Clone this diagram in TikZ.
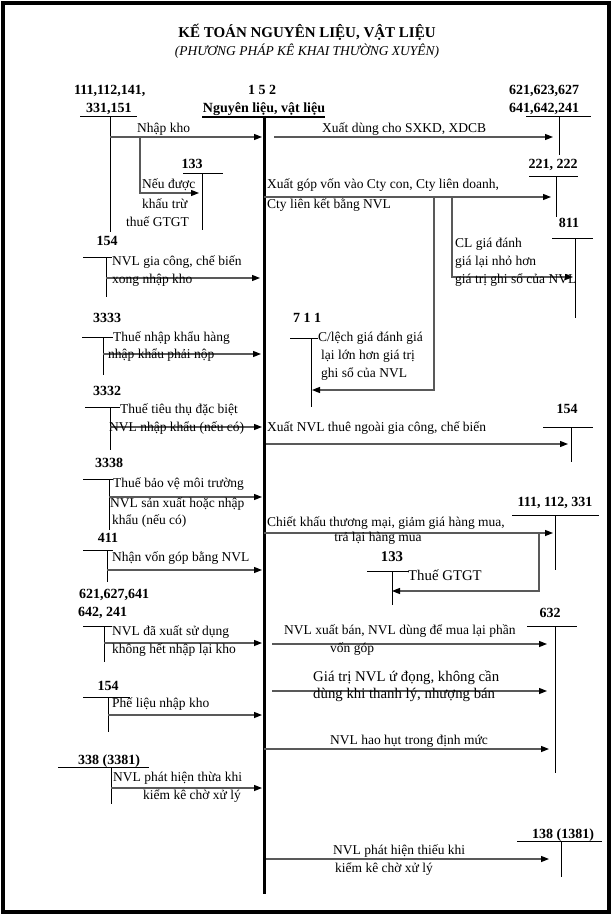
\documentclass[tikz,border=0pt]{standalone}
\usepackage{fontspec}
\setmainfont{Liberation Serif}
\usetikzlibrary{arrows.meta}
\newcommand{\fsN}{\fontsize{13.5}{15}\selectfont}
\newcommand{\fsB}{\fontsize{14}{16}\selectfont\bfseries}
\newcommand{\fsL}{\fontsize{14.8}{17}\selectfont}
\begin{document}
\begin{tikzpicture}[x=1pt,y=-1pt,
  txt/.style={anchor=base west,inner sep=0pt,font=\fsN},
  ctxt/.style={anchor=base,inner sep=0pt,font=\fsN},
  big/.style={anchor=base west,inner sep=0pt,font=\fsL},
  lab/.style={anchor=base,inner sep=0pt,font=\fsB},
  labw/.style={anchor=base west,inner sep=0pt,font=\fsB},
  tline/.style={draw=black,line width=1pt},
  arr/.style={draw=black!65,line width=1.3pt,-{Triangle[length=8pt,width=6pt,color=black]}}]
\useasboundingbox (0,0) rectangle (614,920);
\draw[line width=3.5pt] (3,3) rectangle (609,912);

% title
\node[anchor=base,inner sep=0pt,font=\fontsize{15}{17}\selectfont\bfseries] (title) at (307,38) {KẾ TOÁN NGUYÊN LIỆU, VẬT LIỆU};
\node[anchor=base,inner sep=0pt,font=\fontsize{13.5}{15}\selectfont\itshape] (subtitle) at (307,56) {(PHƯƠNG PHÁP KÊ KHAI THƯỜNG XUYÊN)};

% header accounts
\node[labw] (h111a) at (74,95) {111,112,141,};
\node[labw] (h111b) at (86,113) {331,151};
\node[lab] (h152a) at (262,95) {1 5 2};
\node[lab] (h152b) at (264,113) {Nguyên liệu, vật liệu};
\node[labw] (h621a) at (509,95) {621,623,627};
\node[labw] (h621b) at (509,113) {641,642,241};

% T accounts: coordinates
\coordinate (a111l) at (80,117); \coordinate (a111r) at (137,117);
\coordinate (a111t) at (110,117); \coordinate (a111b) at (110,232);
\draw[tline] (a111l) -- (a111r); \draw[tline] (a111t) -- (a111b);

\coordinate (mainl) at (202,117); \coordinate (mainr) at (325,117);
\coordinate (maint) at (264,116); \coordinate (mainb) at (264,894);
\draw[line width=2.2pt] (mainl) -- (mainr);
\draw[line width=3pt] (maint) -- (mainb);

\coordinate (a621l) at (526,117); \coordinate (a621r) at (591,117);
\coordinate (a621t) at (559,117); \coordinate (a621b) at (559,155);
\draw[tline] (a621l) -- (a621r); \draw[tline] (a621t) -- (a621b);

\node[lab] (l133a) at (192,169) {133};
\coordinate (a133l) at (183,174); \coordinate (a133r) at (223,174);
\coordinate (a133t) at (202,174); \coordinate (a133b) at (202,230);
\draw[tline] (a133l) -- (a133r); \draw[tline] (a133t) -- (a133b);

\node[lab] (l221) at (553,169) {221, 222};
\coordinate (a221l) at (529,177); \coordinate (a221r) at (578,177);
\coordinate (a221t) at (556,177); \coordinate (a221b) at (556,217);
\draw[tline] (a221l) -- (a221r); \draw[tline] (a221t) -- (a221b);

\node[lab] (l154a) at (107,245) {154};
\coordinate (a154l) at (83,257); \coordinate (a154r) at (112,257);
\coordinate (a154t) at (106,257); \coordinate (a154b) at (106,297);
\draw[tline] (a154l) -- (a154r); \draw[tline] (a154t) -- (a154b);

\node[lab] (l811) at (569,227) {811};
\coordinate (a811l) at (552,238); \coordinate (a811r) at (593,238);
\coordinate (a811t) at (575,238); \coordinate (a811b) at (575,318);
\draw[tline] (a811l) -- (a811r); \draw[tline] (a811t) -- (a811b);

\node[lab] (l3333) at (107,322) {3333};
\coordinate (a3333l) at (82,337); \coordinate (a3333r) at (113,337);
\coordinate (a3333t) at (103,337); \coordinate (a3333b) at (103,375);
\draw[tline] (a3333l) -- (a3333r); \draw[tline] (a3333t) -- (a3333b);

\node[lab] (l711) at (307,322) {7 1 1};
\coordinate (a711l) at (290,338); \coordinate (a711r) at (318,338);
\coordinate (a711t) at (311,338); \coordinate (a711b) at (311,407);
\draw[tline] (a711l) -- (a711r); \draw[tline] (a711t) -- (a711b);

\node[lab] (l3332) at (107,395) {3332};
\coordinate (a3332l) at (85,407); \coordinate (a3332r) at (120,407);
\coordinate (a3332t) at (110,407); \coordinate (a3332b) at (110,450);
\draw[tline] (a3332l) -- (a3332r); \draw[tline] (a3332t) -- (a3332b);

\node[lab] (l154b) at (567,413) {154};
\coordinate (a154bl) at (543,427); \coordinate (a154br) at (593,427);
\coordinate (a154bt) at (571,427); \coordinate (a154bb) at (571,462);
\draw[tline] (a154bl) -- (a154br); \draw[tline] (a154bt) -- (a154bb);

\node[lab] (l3338) at (109,467) {3338};
\coordinate (a3338l) at (83,479); \coordinate (a3338r) at (113,479);
\coordinate (a3338t) at (109,479); \coordinate (a3338b) at (109,530);
\draw[tline] (a3338l) -- (a3338r); \draw[tline] (a3338t) -- (a3338b);

\node[lab] (l111b) at (555,506) {111, 112, 331};
\coordinate (a111bl) at (512,515); \coordinate (a111br) at (599,515);
\coordinate (a111bt) at (555,515); \coordinate (a111bb) at (555,570);
\draw[tline] (a111bl) -- (a111br); \draw[tline] (a111bt) -- (a111bb);

\node[lab] (l411) at (108,542) {411};
\coordinate (a411l) at (83,550); \coordinate (a411r) at (113,550);
\coordinate (a411t) at (107,550); \coordinate (a411b) at (107,582);
\draw[tline] (a411l) -- (a411r); \draw[tline] (a411t) -- (a411b);

\node[lab,font=\fontsize{14.8}{17}\selectfont\bfseries] (l133b) at (392,561) {133};
\coordinate (a133bl) at (367,571); \coordinate (a133br) at (409,571);
\coordinate (a133bt) at (392,571); \coordinate (a133bb) at (392,605);
\draw[tline] (a133bl) -- (a133br); \draw[tline] (a133bt) -- (a133bb);

\node[labw] (l621b) at (79,598) {621,627,641};
\node[labw] (l642) at (78,616) {642, 241};
\coordinate (a642l) at (83,626); \coordinate (a642r) at (112,626);
\coordinate (a642t) at (104,626); \coordinate (a642b) at (104,662);
\draw[tline] (a642l) -- (a642r); \draw[tline] (a642t) -- (a642b);

\node[lab] (l632) at (550,617) {632};
\coordinate (a632l) at (527,626); \coordinate (a632r) at (577,626);
\coordinate (a632t) at (555,626); \coordinate (a632b) at (555,773);
\draw[tline] (a632l) -- (a632r); \draw[tline] (a632t) -- (a632b);

\node[lab] (l154c) at (108,690) {154};
\coordinate (a154cl) at (83,697); \coordinate (a154cr) at (130,697);
\coordinate (a154ct) at (108,697); \coordinate (a154cb) at (108,732);
\draw[tline] (a154cl) -- (a154cr); \draw[tline] (a154ct) -- (a154cb);

\node[lab] (l338) at (109,764) {338 (3381)};
\coordinate (a338l) at (58,767); \coordinate (a338r) at (149,767);
\coordinate (a338t) at (111,767); \coordinate (a338b) at (111,804);
\draw[tline] (a338l) -- (a338r); \draw[tline] (a338t) -- (a338b);

\node[lab] (l138) at (563,838) {138 (1381)};
\coordinate (a138l) at (517,841); \coordinate (a138r) at (602,841);
\coordinate (a138t) at (561,841); \coordinate (a138b) at (561,877);
\draw[tline] (a138l) -- (a138r); \draw[tline] (a138t) -- (a138b);

% arrows
\coordinate (r1s) at (110,137); \coordinate (r1e) at (262,137);
\draw[arr] (r1s) -- (r1e);
\coordinate (r2s) at (274,137); \coordinate (r2e) at (553,137);
\draw[arr] (r2s) -- (r2e);
\coordinate (r3s) at (140,137); \coordinate (r3e) at (199,193);
\draw[arr] (r3s) |- (r3e);
\coordinate (r4s) at (106,278); \coordinate (r4e) at (260,278);
\draw[arr] (r4s) -- (r4e);
\coordinate (r5s) at (264,197); \coordinate (r5e) at (551,197);
\draw[arr] (r5s) -- (r5e);
\coordinate (r6s) at (452,197); \coordinate (r6e) at (573,277);
\draw[arr] (r6s) |- (r6e);
\coordinate (r7s) at (103,354); \coordinate (r7e) at (261,354);
\draw[arr] (r7s) -- (r7e);
\coordinate (r8s) at (434,197); \coordinate (r8e) at (312,390);
\draw[arr] (r8s) |- (r8e);
\coordinate (r9s) at (110,427); \coordinate (r9e) at (262,427);
\draw[arr] (r9s) -- (r9e);
\coordinate (r10s) at (266,444); \coordinate (r10e) at (568,444);
\draw[arr] (r10s) -- (r10e);
\coordinate (r11s) at (109,497); \coordinate (r11e) at (262,497);
\draw[arr] (r11s) -- (r11e);
\coordinate (r12s) at (264,533); \coordinate (r12e) at (553,533);
\draw[arr] (r12s) -- (r12e);
\coordinate (r13s) at (107,570); \coordinate (r13e) at (262,570);
\draw[arr] (r13s) -- (r13e);
\coordinate (r14s) at (539,533); \coordinate (r14e) at (392,591);
\draw[arr] (r14s) |- (r14e);
\coordinate (r15s) at (104,643); \coordinate (r15e) at (262,643);
\draw[arr] (r15s) -- (r15e);
\coordinate (r16s) at (272,644); \coordinate (r16e) at (547,644);
\draw[arr] (r16s) -- (r16e);
\coordinate (r17s) at (272,691); \coordinate (r17e) at (547,691);
\draw[arr] (r17s) -- (r17e);
\coordinate (r18s) at (108,715) ; \coordinate (r18e) at (262,715);
\draw[arr] (r18s) -- (r18e);
\coordinate (r19s) at (264,749); \coordinate (r19e) at (549,749);
\draw[arr] (r19s) -- (r19e);
\coordinate (r20s) at (111,788); \coordinate (r20e) at (262,788);
\draw[arr] (r20s) -- (r20e);
\coordinate (r21s) at (266,859); \coordinate (r21e) at (549,859);
\draw[arr] (r21s) -- (r21e);

% texts
\node[txt] (t1) at (137,133) {Nhập kho};
\node[txt] (t2) at (322,133) {Xuất dùng cho SXKD, XDCB};
\node[txt] (t3a) at (142,189) {Nếu được};
\node[txt] (t3b) at (142,208) {khấu trừ};
\node[txt] (t3c) at (126,226) {thuế GTGT};
\node[txt] (t4a) at (112,265) {NVL gia công, chế biến};
\node[txt] (t4b) at (112,283) {xong nhập kho};
\node[txt] (t5a) at (267,189) {Xuất góp vốn vào Cty con, Cty liên doanh,};
\node[txt] (t5b) at (267,208) {Cty liên kết bằng NVL};
\node[txt] (t6a) at (455,247) {CL giá đánh};
\node[txt] (t6b) at (455,265) {giá lại nhỏ hơn};
\node[txt] (t6c) at (455,283) {giá trị ghi sổ của NVL};
\node[txt] (t7a) at (113,341) {Thuế nhập khẩu hàng};
\node[txt] (t7b) at (108,358) {nhập khẩu phải nộp};
\node[txt] (t8a) at (318,341) {C/lệch giá đánh giá};
\node[txt] (t8b) at (321,359) {lại lớn hơn giá trị};
\node[txt] (t8c) at (321,377) {ghi sổ của NVL};
\node[txt] (t9a) at (120,413) {Thuế tiêu thụ đặc biệt};
\node[txt] (t9b) at (109,431) {NVL nhập khẩu (nếu có)};
\node[txt] (t10) at (267,431) {Xuất NVL thuê ngoài gia công, chế biến};
\node[txt] (t11a) at (113,487) {Thuế bảo vệ môi trường};
\node[txt] (t11b) at (110,507) {NVL sản xuất hoặc nhập};
\node[txt] (t11c) at (112,524) {khẩu (nếu có)};
\node[txt] (t12a) at (267,526) {Chiết khấu thương mại, giảm giá hàng mua,};
\node[ctxt] (t12b) at (378,541) {trả lại hàng mua};
\node[txt] (t13) at (112,561) {Nhận vốn góp bằng NVL};
\node[big] (t14) at (408,580) {Thuế GTGT};
\node[txt] (t15a) at (112,635) {NVL đã xuất sử dụng};
\node[txt] (t15b) at (112,653) {không hết nhập lại kho};
\node[txt] (t16a) at (284,634) {NVL xuất bán, NVL dùng để mua lại phần};
\node[txt] (t16b) at (330,652) {vốn góp};
\node[big] (t17a) at (313,681) {Giá trị NVL ứ đọng, không cần};
\node[big] (t17b) at (313,698) {dùng khi thanh lý, nhượng bán};
\node[txt] (t18) at (112,707) {Phế liệu nhập kho};
\node[ctxt] (t19) at (409,744) {NVL hao hụt trong định mức};
\node[txt] (t20a) at (113,781) {NVL phát hiện thừa khi};
\node[txt] (t20b) at (143,799) {kiểm kê chờ xử lý};
\node[txt] (t21a) at (333,854) {NVL phát hiện thiếu khi};
\node[txt] (t21b) at (335,872) {kiểm kê chờ xử lý};
\end{tikzpicture}
\end{document}
